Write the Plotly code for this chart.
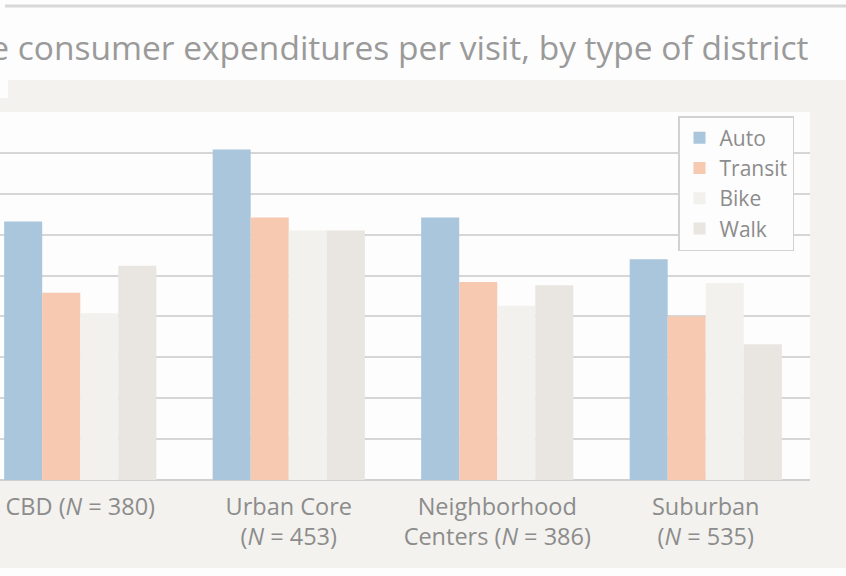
import plotly.graph_objects as go

categories = [
    "CBD (<i>N</i> = 380)",
    "Urban Core<br>(<i>N</i> = 453)",
    "Neighborhood<br>Centers (<i>N</i> = 386)",
    "Suburban<br>(<i>N</i> = 535)",
]
auto = [31.6, 40.4, 32.1, 27.0]
transit = [22.9, 32.1, 24.2, 20.0]
bike = [20.4, 30.5, 21.3, 24.1]
walk = [26.2, 30.5, 23.8, 16.6]

series = [
    ("Auto", auto, "#a9c6dc"),
    ("Transit", transit, "#f7c9b0"),
    ("Bike", bike, "#f3f1ed"),
    ("Walk", walk, "#e9e6e1"),
]

W, H = 846, 576
L, R, T, B = 0, 36, 112, 96
pw, ph = W - L - R, H - T - B

def px(x):
    return (x - L) / pw

def py(y):
    return (H - B - y) / ph

fig = go.Figure()
for name, vals, col in series:
    fig.add_trace(go.Bar(name=name, x=list(range(len(categories))), y=vals,
                         marker=dict(color=col, line=dict(width=0))))

beige = "#f3f2ee"
fig.update_layout(
    width=W, height=H,
    margin=dict(l=L, r=R, t=T, b=B, pad=0),
    paper_bgcolor=beige,
    plot_bgcolor="#fdfdfd",
    barmode="group",
    bargap=0.27,
    bargroupgap=0,
    font=dict(family="Open Sans", color="#8c8c8c"),
    xaxis=dict(
        tickmode="array", tickvals=list(range(len(categories))), ticktext=categories,
        range=[3.5 - pw / 208.5, 3.5],
        showgrid=False, zeroline=False, showline=False, ticks="",
        ticklabelstandoff=10,
        tickfont=dict(size=23.5, color="#8c8c8c"),
    ),
    yaxis=dict(
        range=[0, 45], dtick=5, showticklabels=False, ticks="",
        showgrid=True, gridcolor="#d6d6d6", gridwidth=2,
        zeroline=True, zerolinecolor="#d0d0d0", zerolinewidth=2,
    ),
    legend=dict(
        x=px(678), y=py(116), xanchor="left", yanchor="top",
        bgcolor="#fdfdfd", bordercolor="#d2d2d2", borderwidth=1.5,
        font=dict(size=21, color="#8c8c8c"),
    ),
    showlegend=True,
)

shapes = [
    dict(type="rect", xref="paper", yref="paper", x0=px(0), x1=px(W), y0=py(80), y1=py(0),
         fillcolor="#fdfdfd", line=dict(width=0), layer="below"),
    dict(type="rect", xref="paper", yref="paper", x0=px(0), x1=px(8), y0=py(98), y1=py(80),
         fillcolor="#fdfdfd", line=dict(width=0), layer="below"),
    dict(type="line", xref="paper", yref="paper", x0=px(5), x1=px(W), y0=py(6), y1=py(6),
         line=dict(color="#d8d8d8", width=3)),
    dict(type="rect", xref="paper", yref="paper", x0=px(0), x1=px(W), y0=py(H), y1=py(568),
         fillcolor="#fdfdfd", line=dict(width=0), layer="below"),
]
fig.update_layout(shapes=shapes)

fig.add_annotation(
    text="Average consumer expenditures per visit, by type of district",
    xref="paper", yref="paper", x=px(811), y=py(47), xanchor="right", yanchor="middle",
    showarrow=False, font=dict(size=33.5, color="#9a9a9a", family="Open Sans"),
)

fig.write_html("out.html", config={"displayModeBar": False},
               post_script="document.body.style.margin='0';document.body.style.overflow='hidden';")
